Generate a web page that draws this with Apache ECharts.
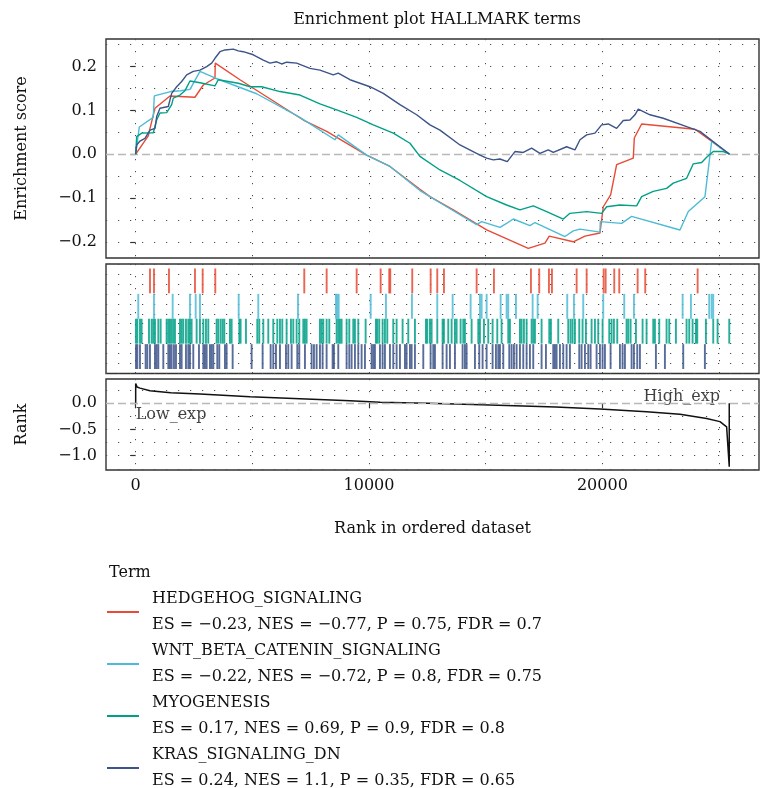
<!DOCTYPE html>
<html>
<head>
<meta charset="utf-8">
<title>Enrichment plot HALLMARK terms</title>
<script src="https://cdn.jsdelivr.net/npm/echarts@6/dist/echarts.min.js"></script>
<style>
    html, body { margin: 0; padding: 0; background: #fff; }
    #gsea_chart { width: 761px; height: 788px; }
</style>
</head>
<body>
<div id="gsea_chart"></div>
<script>
// gene sets
var terms = ['HEDGEHOG_SIGNALING', 'WNT_BETA_CATENIN_SIGNALING', 'MYOGENESIS', 'KRAS_SIGNALING_DN'];
var termStats = [
    'ES = \u22120.23, NES = \u22120.77, P = 0.75, FDR = 0.7',
    'ES = \u22120.22, NES = \u22120.72, P = 0.8, FDR = 0.75',
    'ES = 0.17, NES = 0.69, P = 0.9, FDR = 0.8',
    'ES = 0.24, NES = 1.1, P = 0.35, FDR = 0.65'
];

// running enrichment score, [rank, ES]
var hedgehogES = [[0, 0], [541, 0.042], [620, 0.06], [827, 0.105], [1470, 0.133], [2541, 0.130], [2897, 0.158],
    [3398, 0.174], [3410, 0.208], [4469, 0.170], [7182, 0.078], [8184, 0.052], [9898, -0.002], [10897, -0.028],
    [12182, -0.080], [12611, -0.097], [13611, -0.127], [15040, -0.173], [16824, -0.215], [17539, -0.203],
    [17723, -0.187], [18752, -0.200], [19254, -0.187], [19897, -0.180], [20039, -0.120], [20354, -0.093],
    [20611, -0.024], [21325, -0.009], [21368, 0.037], [21682, 0.069], [23968, 0.057], [25450, 0]];
var wntES = [[0, 0], [154, 0.062], [754, 0.084], [797, 0.133], [1500, 0.143], [1928, 0.145], [2327, 0.148],
    [2755, 0.189], [3398, 0.174], [5183, 0.138], [7040, 0.084], [8540, 0.033], [8682, 0.044], [9898, -0.002],
    [10897, -0.028], [12182, -0.083], [13326, -0.120], [14611, -0.161], [14826, -0.154], [15611, -0.167],
    [15896, -0.158], [16182, -0.148], [16896, -0.163], [17110, -0.156], [18396, -0.188], [18752, -0.175],
    [19039, -0.171], [19897, -0.178], [19911, -0.154], [20825, -0.158], [21253, -0.142], [23325, -0.173],
    [23682, -0.131], [24396, -0.097], [24682, 0.029], [25450, 0]];
var myogenesisES = [[0, 0], [43, 0.040], [257, 0.048], [754, 0.049], [900, 0.078], [1041, 0.094], [1328, 0.095],
    [1542, 0.113], [1613, 0.128], [1898, 0.135], [2113, 0.145], [2327, 0.167], [2755, 0.163], [3398, 0.156],
    [3540, 0.170], [3968, 0.166], [4397, 0.162], [4898, 0.154], [5399, 0.154], [6184, 0.143], [7040, 0.135],
    [7897, 0.115], [8613, 0.101], [9470, 0.084], [10182, 0.067], [11039, 0.048], [11754, 0.025], [12182, -0.005],
    [13040, -0.036], [13897, -0.060], [15040, -0.097], [15896, -0.116], [16468, -0.127], [17039, -0.118],
    [17611, -0.131], [18325, -0.148], [18610, -0.135], [19326, -0.131], [19968, -0.135], [20183, -0.120],
    [20754, -0.116], [21468, -0.118], [21682, -0.097], [22180, -0.085], [22753, -0.078], [23038, -0.066],
    [23611, -0.055], [23896, -0.022], [24254, -0.019], [24468, -0.007], [24754, 0.006], [25180, 0.006], [25450, 0]];
var krasES = [[0, 0], [43, 0.021], [184, 0.030], [398, 0.036], [613, 0.055], [827, 0.059], [900, 0.086],
    [1041, 0.105], [1397, 0.109], [1542, 0.139], [1757, 0.154], [1971, 0.166], [2185, 0.181], [2468, 0.189],
    [2755, 0.192], [3042, 0.200], [3257, 0.208], [3398, 0.219], [3612, 0.234], [3826, 0.238], [4183, 0.240],
    [4397, 0.236], [4611, 0.234], [5040, 0.227], [5468, 0.215], [5755, 0.208], [6042, 0.211], [6256, 0.206],
    [6470, 0.210], [6899, 0.208], [7469, 0.196], [7897, 0.192], [8467, 0.181], [8682, 0.185], [9183, 0.170],
    [10040, 0.154], [10610, 0.139], [11325, 0.113], [12041, 0.090], [12611, 0.067], [13040, 0.055],
    [13897, 0.021], [14754, -0.002], [15040, -0.009], [15325, -0.013], [15611, -0.011], [15924, -0.017],
    [16253, 0.006], [16610, 0.004], [16968, 0.014], [17325, 0.002], [17681, 0.010], [17896, 0.004],
    [18467, 0.017], [18825, 0.010], [19040, 0.033], [19325, 0.044], [19682, 0.048], [19968, 0.067],
    [20252, 0.069], [20611, 0.059], [20895, 0.077], [21181, 0.078], [21396, 0.090], [21538, 0.103],
    [22039, 0.090], [22609, 0.082], [23611, 0.063], [24181, 0.052], [25450, 0]];

// positions of set members in the ranked list
var hedgehogHits = [613, 784, 1427, 2541, 2871, 3411, 7225, 8184, 9470, 10498, 10867, 10910, 11852,
    12641, 12924, 13211, 14612, 15353, 16939, 17294, 17710, 17839, 18897, 19326, 20054, 20140, 20509,
    20723, 21511, 21837, 24082];
var wntHits = [111, 784, 1585, 2327, 2571, 2755, 4414, 5254, 6955, 8583, 8639, 8699, 10070, 10726, 11840,
    12924, 13583, 14354, 14754, 14826, 15040, 15640, 15897, 15966, 16296, 17011, 17226, 18494, 18781,
    19180, 20037, 20937, 21352, 23439, 23795, 24579, 24682, 24750];
var myogenesisHits = [10, 70, 184, 255, 570, 684, 755, 827, 970, 1070, 1327, 1398, 1469, 1541, 1612, 1684,
    1898, 1969, 2041, 2155, 2255, 2326, 2398, 2612, 2755, 2898, 3012, 3112, 3469, 3540, 3640, 3726, 3798,
    4040, 4112, 4440, 4497, 4726, 5212, 5297, 5469, 5683, 5897, 6069, 6183, 6283, 6468, 6654, 6754, 6897,
    7011, 7183, 7254, 7325, 7897, 7968, 8040, 8182, 8297, 8611, 8682, 8754, 8825, 9039, 9154, 9325, 9396,
    9539, 9854, 10296, 10353, 10439, 10582, 10682, 10782, 11039, 11182, 11439, 11682, 11967, 12439, 12496,
    12610, 12682, 12925, 13153, 13210, 13396, 13539, 13682, 13753, 13925, 14039, 14110, 14396, 14682, 14753,
    14924, 15110, 15296, 15496, 15681, 15967, 16038, 16467, 16538, 16638, 16753, 16967, 17038, 17110, 17395,
    17724, 17795, 18109, 18538, 18638, 18724, 18824, 19009, 19152, 19295, 19538, 19681, 19823, 20009, 20295,
    20395, 20495, 20638, 21037, 21109, 21209, 21437, 21723, 21894, 22180, 22252, 22437, 22751, 22866, 23151,
    23608, 23723, 23866, 24008, 24066, 24437, 24751, 24937, 25437];
var krasHits = [13, 70, 184, 427, 498, 612, 827, 898, 970, 1184, 1398, 1469, 1541, 1641, 1727, 1898, 1969,
    2155, 2255, 2326, 2469, 2712, 2898, 2969, 3041, 3183, 3255, 3326, 3498, 3583, 3826, 3898, 4155, 4969,
    5440, 5783, 5897, 6011, 6183, 6440, 6540, 6683, 6926, 7011, 7254, 7540, 7640, 7754, 7897, 8011, 8182,
    8440, 8497, 8682, 9039, 9154, 9254, 9396, 9539, 9682, 9825, 10111, 10182, 10253, 10468, 10582, 10682,
    10896, 11039, 11182, 11325, 11539, 11610, 11753, 11825, 11967, 12325, 12639, 12753, 12825, 13153, 13325,
    13467, 13682, 14010, 14110, 14182, 14539, 14724, 14867, 15039, 15296, 15439, 15539, 15610, 15753, 16010,
    16110, 16210, 16324, 16467, 16610, 16753, 16895, 17038, 17395, 17581, 17895, 17967, 18038, 18181, 18324,
    18467, 18609, 19009, 19109, 19252, 19395, 19495, 19752, 19895, 20009, 20109, 20352, 20752, 20866, 20966,
    21252, 21352, 21495, 21609, 22294, 22680, 23465, 24393];

// ranked list metric, [rank, value]
var rankMetric = [[0, 0], [0, 0.38], [60, 0.31], [184, 0.29], [613, 0.24], [1500, 0.20], [2755, 0.18],
    [4898, 0.126], [7040, 0.088], [9183, 0.05], [10469, 0.02], [12500, 0.0], [15183, -0.03], [18000, -0.07],
    [19896, -0.11], [21896, -0.16], [23325, -0.21], [24468, -0.29], [25039, -0.35], [25325, -0.45],
    [25437, -1.21], [25437, 0]];

var xTicks = [0, 10000, 20000];
var esTicks = [-0.2, -0.1, 0, 0.1, 0.2];
var rankTicks = [-1.0, -0.5, 0];

var esList = [hedgehogES, wntES, myogenesisES, krasES];
var hitList = [hedgehogHits, wntHits, myogenesisHits, krasHits];

var palette = ['#E64B35', '#4DBBD5', '#00A087', '#3C5488'];
var fontName = 'DejaVu Serif';
var textColor = '#111';
var xMin = -1272, xMax = 26712;

// row bottoms of the hit strips in the middle panel
var rowBase = [8.05, 5.5, 3.0, 0.45],
    rowHeight = 2.5;

var gridLine = { show: true, lineStyle: { color: '#4a4a4a', width: 1, type: [1.2, 10.8] } };

function fmtNum(v) {
    return v.toFixed(1).replace('-', '\u2212');
}

function xAxisFor(idx, withLabels) {
    return {
        type: 'value',
        gridIndex: idx,
        min: xMin,
        max: xMax,
        splitNumber: 3,
        axisLine: { show: false },
        axisTick: { show: withLabels, customValues: xTicks, length: 5, lineStyle: { color: '#333', width: 1.2 } },
        axisLabel: {
            show: withLabels, customValues: xTicks, margin: 8,
            formatter: function (v) { return String(v); },
            fontFamily: fontName, fontSize: 16, color: textColor
        },
        splitLine: gridLine,
        minorTick: { show: false, splitNumber: 2 },
        minorSplitLine: gridLine,
        name: withLabels ? 'Rank in ordered dataset' : '',
        nameLocation: 'middle',
        nameGap: 51,
        nameTextStyle: { fontFamily: fontName, fontSize: 16, color: textColor }
    };
}

var series = [];

// rank metric panel
series.push({
    name: 'rank',
    type: 'line',
    xAxisIndex: 2,
    yAxisIndex: 2,
    data: rankMetric,
    showSymbol: false,
    lineStyle: { color: '#111', width: 1.5 },
    markLine: {
        silent: true, symbol: 'none', label: { show: false },
        lineStyle: { color: '#b8b8b8', type: [8, 4], width: 1.3 },
        data: [{ yAxis: 0 }]
    },
    z: 3
});
series.push({
    name: 'labels',
    type: 'scatter',
    xAxisIndex: 2,
    yAxisIndex: 2,
    symbolSize: 0,
    silent: true,
    data: [
        { value: [0, -0.22], label: { formatter: 'Low_exp', position: 'right', distance: 0 } },
        { value: [25039, 0.12], label: { formatter: 'High_exp', position: 'left', distance: 0 } }
    ],
    label: { show: true, fontFamily: fontName, fontSize: 16, color: textColor },
    z: 4
});

// hit strips
for (var i = 0; i < terms.length; i++) {
    (function (row) {
        series.push({
            name: terms[row] + ' hits',
            type: 'custom',
            xAxisIndex: 1,
            yAxisIndex: 1,
            silent: true,
            data: hitList[row].map(function (r) { return [r, row]; }),
            renderItem: function (params, api) {
                var x = api.value(0);
                var p0 = api.coord([x, rowBase[row]]);
                var p1 = api.coord([x, rowBase[row] + rowHeight]);
                return {
                    type: 'line',
                    shape: { x1: p0[0], y1: p0[1], x2: p1[0], y2: p1[1] },
                    style: { stroke: palette[row], lineWidth: 1.9, opacity: 0.85 }
                };
            }
        });
    })(i);
}

// running ES curves
for (var j = 0; j < terms.length; j++) {
    var s = {
        name: terms[j],
        type: 'line',
        xAxisIndex: 0,
        yAxisIndex: 0,
        data: esList[j],
        showSymbol: false,
        color: palette[j],
        lineStyle: { color: palette[j], width: 1.4 },
        z: 3
    };
    if (j === 0) {
        s.markLine = {
            silent: true, symbol: 'none', label: { show: false },
            lineStyle: { color: '#b8b8b8', type: [8, 4], width: 1.3 },
            data: [{ yAxis: 0 }],
            z: 1
        };
    }
    series.push(s);
}

var option = {
    animation: false,
    textStyle: { fontFamily: fontName },
    title: [
        {
            text: 'Enrichment plot HALLMARK terms',
            left: 432, top: 7, textAlign: 'center',
            textStyle: { fontFamily: fontName, fontSize: 16, fontWeight: 'normal', color: textColor }
        },
        {
            text: 'Term',
            left: 104, top: 560,
            textStyle: { fontFamily: fontName, fontSize: 16, fontWeight: 'normal', color: textColor }
        }
    ],
    legend: {
        data: terms,
        orient: 'vertical',
        left: 107,
        top: 586,
        height: 220,
        padding: 0,
        itemGap: 0,
        itemWidth: 32,
        itemHeight: 2,
        icon: 'rect',
        selectedMode: false,
        formatter: function (name) {
            return name + '\n' + termStats[terms.indexOf(name)];
        },
        textStyle: { fontFamily: fontName, fontSize: 16, lineHeight: 26, color: textColor, padding: [0, 0, 0, 8] }
    },
    grid: [
        { left: 106, right: 2, top: 39, height: 219, show: true, borderColor: '#333', borderWidth: 1.4 },
        { left: 106, right: 2, top: 264, height: 109.5, show: true, borderColor: '#333', borderWidth: 1.4 },
        { left: 106, right: 2, top: 379, height: 91, show: true, borderColor: '#333', borderWidth: 1.4 }
    ],
    xAxis: [xAxisFor(0, false), xAxisFor(1, false), xAxisFor(2, true)],
    yAxis: [
        {
            type: 'value',
            gridIndex: 0,
            min: -0.237,
            max: 0.263,
            splitNumber: 5,
            axisLine: { show: false },
            axisTick: { show: true, customValues: esTicks, length: 5, lineStyle: { color: '#333', width: 1.2 } },
            axisLabel: {
                customValues: esTicks, margin: 9, formatter: fmtNum,
                fontFamily: fontName, fontSize: 16, color: textColor
            },
            splitLine: gridLine,
            minorTick: { show: false, splitNumber: 2 },
            minorSplitLine: gridLine,
            name: 'Enrichment score',
            nameLocation: 'middle',
            nameGap: 76,
            nameTextStyle: { fontFamily: fontName, fontSize: 16, color: textColor }
        },
        {
            type: 'value',
            gridIndex: 1,
            min: 0,
            max: 11,
            interval: 1,
            axisLine: { show: false },
            axisTick: { show: false },
            axisLabel: { show: false },
            splitLine: gridLine
        },
        {
            type: 'value',
            gridIndex: 2,
            min: -1.273,
            max: 0.464,
            splitNumber: 3,
            axisLine: { show: false },
            axisTick: { show: true, customValues: rankTicks, length: 5, lineStyle: { color: '#333', width: 1.2 } },
            axisLabel: {
                customValues: rankTicks, margin: 9, formatter: fmtNum,
                fontFamily: fontName, fontSize: 16, color: textColor
            },
            splitLine: gridLine,
            minorTick: { show: false, splitNumber: 2 },
            minorSplitLine: gridLine,
            name: 'Rank',
            nameLocation: 'middle',
            nameGap: 76,
            nameTextStyle: { fontFamily: fontName, fontSize: 16, color: textColor }
        }
    ],
    series: series
};

var gseaChart = echarts.init(document.getElementById('gsea_chart'));
gseaChart.setOption(option);
</script>
</body>
</html>
